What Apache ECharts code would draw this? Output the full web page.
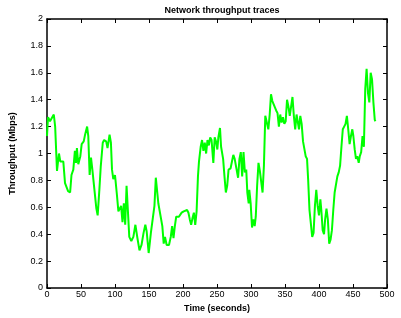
<!DOCTYPE html>
<html>
<head>
<meta charset="utf-8">
<script src="https://cdn.jsdelivr.net/npm/echarts@6/dist/echarts.min.js"></script>
<style>
  html, body { margin: 0; padding: 0; background: #fff; }
  #chart { width: 401px; height: 318px; }
</style>
</head>
<body>
<div id="chart"></div>
<script>
// time (s) and throughput (Mbps)
const times = [
  0, 1.5, 4.4, 7, 10, 12, 14.7, 17.6, 19.6, 24, 26.5, 29, 31, 34, 36, 38.7, 41, 42.6, 44, 46,
  49, 51, 54, 56, 59, 60.7, 62.7, 64.7, 66.7, 69.6, 72.6, 74.5, 77, 79, 82, 84, 87, 89, 92, 94,
  95.6, 97.5, 100, 102.5, 105, 107, 109, 111, 113, 115, 117, 119, 121, 124, 127, 130, 133, 136, 139, 142,
  144.6, 146.6, 149.5, 151.5, 153, 155, 158, 160, 161, 163.7, 166.6, 169.6, 171.6, 173.5, 176, 179.4, 182, 184, 186, 188,
  190, 192, 194, 196, 198, 201, 203, 206, 208, 210, 212, 214, 216, 218, 220, 222, 223.5, 226, 228, 230,
  232, 234, 236, 238, 240, 242, 244.6, 246.6, 248.5, 250.5, 252, 254.4, 256, 258, 259, 261, 263, 265, 267, 270,
  272, 274, 276, 278, 281, 283, 285, 287, 289, 291, 293, 294.6, 296.6, 297.5, 299.5, 301.5, 303.4, 305.4, 307, 309,
  311, 313, 315.7, 317, 319, 321, 323, 325.5, 327.5, 329.4, 331.4, 334, 337, 339, 341, 343, 345, 347, 349, 351,
  353, 355, 357, 359, 361, 363, 365, 367, 369, 370.6, 372.5, 374.5, 376.5, 378.4, 380.4, 382.4, 384, 386, 388, 390,
  392, 394, 396, 398, 400, 402, 403.4, 405.4, 407.4, 409, 411, 413, 415, 417, 419, 421, 423, 425, 427, 429,
  431, 433, 435, 437, 439, 441, 443, 445, 447, 449, 450.5, 452.5, 454.4, 456.3, 458.4, 460, 462, 464, 466, 468,
  470, 472, 474, 476, 478, 480, 482, 483
];
const throughput = [
  1.13, 1.27, 1.24, 1.23, 1.29, 1.20, 0.87, 1.00, 0.94, 0.94, 0.78, 0.77, 0.72, 0.71, 0.84, 0.88, 1.02, 0.93, 1.04, 0.92,
  0.98, 1.07, 1.09, 1.14, 1.20, 1.13, 0.84, 0.97, 0.88, 0.89, 0.59, 0.54, 0.73, 0.90, 1.08, 1.10, 1.09, 1.04, 1.14, 1.08,
  0.88, 0.81, 0.84, 0.71, 0.57, 0.56, 0.61, 0.49, 0.63, 0.47, 0.76, 0.76, 0.38, 0.35, 0.38, 0.47, 0.37, 0.28, 0.32, 0.41,
  0.47, 0.42, 0.26, 0.35, 0.42, 0.41, 0.61, 0.82, 0.81, 0.63, 0.62, 0.46, 0.33, 0.38, 0.32, 0.32, 0.38, 0.46, 0.37, 0.46,
  0.53, 0.54, 0.53, 0.54, 0.56, 0.57, 0.56, 0.58, 0.56, 0.51, 0.47, 0.52, 0.56, 0.47, 0.57, 0.83, 0.94, 1.05, 1.10, 1.02,
  1.08, 1.00, 1.10, 1.06, 1.12, 1.10, 0.93, 1.12, 1.09, 1.03, 1.12, 1.19, 1.05, 1.04, 0.96, 0.83, 0.71, 0.76, 0.88, 0.89,
  0.94, 0.99, 0.96, 0.97, 0.82, 0.96, 1.01, 0.83, 1.01, 0.86, 0.88, 0.71, 0.63, 0.73, 0.63, 0.45, 0.51, 0.46, 0.53, 0.76,
  0.93, 0.87, 0.86, 0.71, 0.91, 1.28, 1.29, 1.18, 1.29, 1.44, 1.39, 1.38, 1.32, 1.30, 1.20, 1.29, 1.23, 1.27, 1.22, 1.24,
  1.40, 1.35, 1.28, 1.35, 1.42, 1.28, 1.18, 1.29, 1.23, 1.18, 1.28, 1.22, 1.09, 1.08, 0.98, 0.96, 0.81, 0.58, 0.48, 0.38,
  0.41, 0.61, 0.73, 0.61, 0.54, 0.66, 0.58, 0.43, 0.40, 0.51, 0.59, 0.51, 0.33, 0.36, 0.43, 0.58, 0.71, 0.71, 0.83, 0.86,
  0.91, 1.05, 1.18, 1.20, 1.22, 1.28, 1.18, 1.07, 1.13, 1.18, 1.13, 1.03, 0.96, 0.98, 0.93, 0.98, 1.01, 1.13, 1.05, 1.48,
  1.63, 1.45, 1.38, 1.60, 1.55, 1.38, 1.25, 1.24
];

const chart = echarts.init(document.getElementById('chart'));
const font = 'Liberation Sans, Arial, Helvetica, sans-serif';
const tickStyle = { show: true, inside: true, length: 4, lineStyle: { color: '#000', width: 1 } };
const lineStyle = { show: true, onZero: false, lineStyle: { color: '#000', width: 1.5 } };

const option = {
  animation: false,
  backgroundColor: '#fff',
  title: {
    text: 'Network throughput traces',
    left: 217, top: 1, textAlign: 'center',
    textStyle: { fontFamily: font, fontSize: 9, fontWeight: 'bold', color: '#000' }
  },
  grid: { left: 47, right: 14, top: 19, bottom: 30 },
  xAxis: [
    {
      type: 'value', min: 0, max: 500, interval: 50,
      name: 'Time (seconds)', nameLocation: 'middle', nameGap: 15,
      nameTextStyle: { fontFamily: font, fontSize: 9, fontWeight: 'bold', color: '#000' },
      axisLine: lineStyle, axisTick: tickStyle, splitLine: { show: false },
      axisLabel: { fontFamily: font, fontSize: 9, color: '#000', margin: 2 }
    },
    {
      type: 'value', position: 'top', min: 0, max: 500, interval: 50,
      axisLine: lineStyle, axisTick: tickStyle, splitLine: { show: false },
      axisLabel: { show: false }
    }
  ],
  yAxis: [
    {
      type: 'value', min: 0, max: 2, interval: 0.2,
      name: 'Throughput (Mbps)', nameLocation: 'middle', nameGap: 30,
      nameTextStyle: { fontFamily: font, fontSize: 9, fontWeight: 'bold', color: '#000' },
      axisLine: lineStyle, axisTick: tickStyle, splitLine: { show: false },
      axisLabel: {
        fontFamily: font, fontSize: 9, color: '#000', margin: 4,
        formatter: v => String(Math.round(v * 10) / 10)
      }
    },
    {
      type: 'value', position: 'right', min: 0, max: 2, interval: 0.2,
      axisLine: lineStyle, axisTick: tickStyle, splitLine: { show: false },
      axisLabel: { show: false }
    }
  ],
  series: [{
    type: 'line',
    data: times.map((t, i) => [t, throughput[i]]),
    showSymbol: false,
    symbol: 'none',
    lineStyle: { color: '#00ff00', width: 2 },
    itemStyle: { color: '#00ff00' }
  }]
};

chart.setOption(option);
</script>
</body>
</html>
